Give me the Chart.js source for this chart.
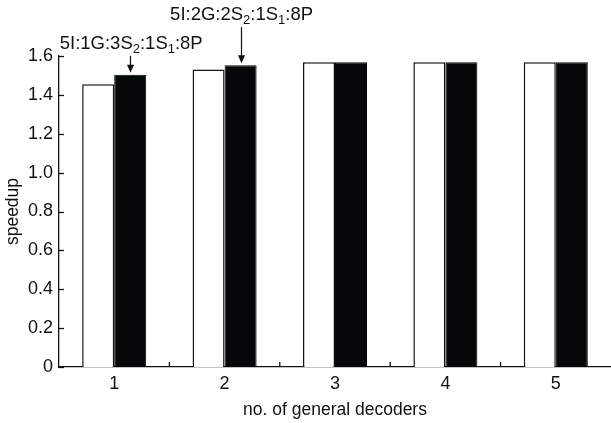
<!DOCTYPE html>
<html>
<head>
<meta charset="utf-8">
<script src="https://cdn.jsdelivr.net/npm/chart.js@4.4.1/dist/chart.umd.min.js"></script>
<style>
  html, body { margin: 0; padding: 0; background: #fff; }
  #wrap { width: 611px; height: 423px; position: relative; }
</style>
</head>
<body>
<div id="wrap"><canvas id="c" width="611" height="423"></canvas></div>
<script>
const categories = ['1', '2', '3', '4', '5'];
const seriesWhite = [1.455, 1.53, 1.568, 1.568, 1.568];
const seriesBlack = [1.503, 1.553, 1.568, 1.568, 1.568];
const yTicks = [0, 0.2, 0.4, 0.6, 0.8, 1.0, 1.2, 1.4, 1.6];
const xTitle = 'no. of general decoders';
const yTitle = 'speedup';
// annotation: [datasetIndex, categoryIndex, segments of text [text, isSubscript]]
const annotations = [
  { ds: 1, idx: 0, parts: [['5I:1G:3S', false], ['2', true], [':1S', false], ['1', true], [':8P', false]], gap: 26 },
  { ds: 1, idx: 1, parts: [['5I:2G:2S', false], ['2', true], [':1S', false], ['1', true], [':8P', false]], gap: 45 }
];

const FONT = '"Liberation Sans", Arial, Helvetica, sans-serif';
const INK = '#111';

const customPlugin = {
  id: 'custom',
  afterDraw(chart) {
    const ctx = chart.ctx;
    const xs = chart.scales.x, ys = chart.scales.y;
    ctx.save();
    ctx.strokeStyle = INK;
    ctx.lineWidth = 1.3;
    // inward y ticks
    yTicks.forEach(v => {
      const y = Math.round(ys.getPixelForValue(v)) + 0.5;
      ctx.beginPath();
      ctx.moveTo(xs.left, y);
      ctx.lineTo(xs.left + 5, y);
      ctx.stroke();
    });
    // inward x ticks between categories
    for (let i = 0; i < categories.length - 1; i++) {
      const x = (xs.getPixelForValue(i) + xs.getPixelForValue(i + 1)) / 2;
      ctx.beginPath();
      ctx.moveTo(x, ys.bottom);
      ctx.lineTo(x, ys.bottom - 5);
      ctx.stroke();
    }
    // annotations
    ctx.fillStyle = INK;
    ctx.textBaseline = 'alphabetic';
    ctx.textAlign = 'left';
    const mainFont = '18.5px ' + FONT;
    const subFont = '13px ' + FONT;
    annotations.forEach(a => {
      const el = chart.getDatasetMeta(a.ds).data[a.idx];
      const x = el.x;
      const topY = el.y;
      const baseline = topY - a.gap;
      let w = 0;
      a.parts.forEach(p => { ctx.font = p[1] ? subFont : mainFont; w += ctx.measureText(p[0]).width; });
      let cx = x - w / 2 + 1;
      a.parts.forEach(p => {
        ctx.font = p[1] ? subFont : mainFont;
        ctx.fillText(p[0], cx, p[1] ? baseline + 4 : baseline);
        cx += ctx.measureText(p[0]).width;
      });
      // arrow
      const ax = Math.round(x) + 0.5;
      const y0 = baseline + 7;
      const y1 = topY - 2;
      ctx.lineWidth = 1.2;
      ctx.beginPath();
      ctx.moveTo(ax, y0);
      ctx.lineTo(ax, y1 - 6);
      ctx.stroke();
      ctx.beginPath();
      ctx.moveTo(ax - 3.5, y1 - 8);
      ctx.lineTo(ax + 3.5, y1 - 8);
      ctx.lineTo(ax, y1);
      ctx.closePath();
      ctx.fill();
    });
    ctx.restore();
  }
};

new Chart(document.getElementById('c'), {
  type: 'bar',
  data: {
    labels: categories,
    datasets: [
      { data: seriesWhite, backgroundColor: '#ffffff', borderColor: INK, borderWidth: 1.5 },
      { data: seriesBlack, backgroundColor: '#050808', borderColor: '#050808', borderWidth: 1 }
    ]
  },
  options: {
    responsive: false,
    animation: false,
    devicePixelRatio: 1,
    layout: { padding: { top: 56, right: 0, left: 0, bottom: 0 } },
    plugins: { legend: { display: false }, tooltip: { enabled: false } },
    datasets: { bar: { categoryPercentage: 0.58, barPercentage: 1.0 } },
    scales: {
      x: {
        grid: { display: false, drawTicks: false },
        border: { display: true, color: INK, width: 1.3 },
        ticks: { color: INK, font: { family: FONT, size: 18 }, padding: 6, maxRotation: 0 },
        title: { display: true, text: xTitle, color: INK, font: { family: FONT, size: 17.5 }, padding: { top: 0, bottom: 2 } },
        afterFit(s) { s.height = 56; }
      },
      y: {
        min: 0, max: 1.6,
        afterBuildTicks(s) { s.ticks = yTicks.map(v => ({ value: v })); },
        grid: { display: false, drawTicks: false },
        border: { display: true, color: INK, width: 1.3 },
        ticks: {
          color: INK, font: { family: FONT, size: 18 }, padding: 6,
          callback: v => (v === 0 ? '0' : v.toFixed(1))
        },
        title: { display: true, text: yTitle, color: INK, font: { family: FONT, size: 17.5 }, padding: { top: 3, bottom: 0 } },
        afterFit(s) { s.width = 59; }
      }
    }
  },
  plugins: [customPlugin]
});
</script>
</body>
</html>
